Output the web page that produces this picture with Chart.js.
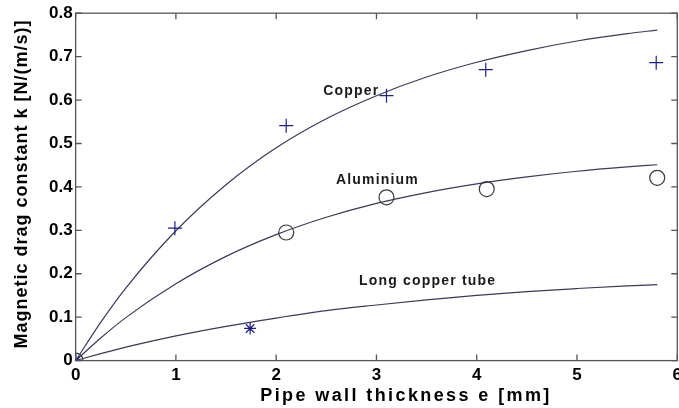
<!DOCTYPE html>
<html lang="en">
<head>
  <meta charset="UTF-8">
  <title>Magnetic drag constant</title>
  <script src="https://cdn.jsdelivr.net/npm/chart.js"></script>
  <style>
    html, body { margin: 0; padding: 0; overflow: hidden; background: #fff; }
    canvas { display: block; }
  </style>
</head>
<body>
  <canvas id="chart" width="687" height="408"></canvas>

  <script>
    // fitted curves
    const curveX = [0, 0.25, 0.5, 1, 1.5, 2, 2.5, 3, 3.5, 4, 4.5, 5, 5.5, 5.8];
    const copperFit = [0, 0.088, 0.167, 0.299, 0.405, 0.490, 0.557, 0.610, 0.653, 0.687, 0.714, 0.736, 0.753, 0.761];
    const aluminiumFit = [0, 0.052, 0.099, 0.177, 0.240, 0.290, 0.330, 0.362, 0.387, 0.407, 0.423, 0.436, 0.446, 0.451];
    const tubeFit = [0, 0.016, 0.031, 0.057, 0.079, 0.098, 0.115, 0.128, 0.140, 0.150, 0.159, 0.166, 0.172, 0.175];

    // measured points
    const copperX = [0, 0.99, 2.1, 3.1, 4.09, 5.79];
    const copperK = [0, 0.305, 0.541, 0.610, 0.670, 0.686];
    const aluminiumX = [0, 2.1, 3.1, 4.1, 5.8];
    const aluminiumK = [0, 0.295, 0.376, 0.395, 0.421];
    const tubeX = [0, 1.74];
    const tubeK = [0, 0.074];

    const xTicks = [0, 1, 2, 3, 4, 5, 6];
    const yTicks = [0, 0.1, 0.2, 0.3, 0.4, 0.5, 0.6, 0.7, 0.8];

    const curveLabels = [
      { text: 'Copper', x: 2.75, y: 0.621 },
      { text: 'Aluminium', x: 3.01, y: 0.416 },
      { text: 'Long copper tube', x: 3.51, y: 0.184 }
    ];

    const pts = (xs, ys) => xs.map((x, i) => ({ x, y: ys[i] }));

    const lineColor = '#3a3a5a';
    const markColor = '#1e1e86';

    function fitSet(data) {
      return {
        data, showLine: true, borderColor: lineColor, borderWidth: 1.2,
        pointRadius: 0, cubicInterpolationMode: 'monotone', fill: false
      };
    }

    const boxPlugin = {
      id: 'box',
      afterDraw(chart) {
        const { ctx, chartArea: a, scales } = chart;
        ctx.save();
        ctx.strokeStyle = '#555';
        ctx.lineWidth = 1.3;
        ctx.strokeRect(a.left, a.top, a.right - a.left, a.bottom - a.top);
        ctx.beginPath();
        xTicks.forEach(v => {
          const px = scales.x.getPixelForValue(v);
          ctx.moveTo(px, a.bottom); ctx.lineTo(px, a.bottom - 6);
          ctx.moveTo(px, a.top); ctx.lineTo(px, a.top + 6);
        });
        yTicks.forEach(v => {
          const py = scales.y.getPixelForValue(v);
          ctx.moveTo(a.left, py); ctx.lineTo(a.left + 6, py);
          ctx.moveTo(a.right, py); ctx.lineTo(a.right - 6, py);
        });
        ctx.stroke();

        // curve labels
        ctx.fillStyle = '#1a1a1a';
        ctx.font = 'bold 14px "Liberation Sans", Arial, sans-serif';
        ctx.letterSpacing = '1.2px';
        ctx.textAlign = 'center';
        ctx.textBaseline = 'middle';
        curveLabels.forEach(l => {
          ctx.fillText(l.text, scales.x.getPixelForValue(l.x), scales.y.getPixelForValue(l.y));
        });

        // axis titles
        ctx.fillStyle = '#000';
        ctx.font = 'bold 18px "Liberation Sans", Arial, sans-serif';
        ctx.textBaseline = 'alphabetic';
        ctx.letterSpacing = '2.4px';
        ctx.fillText('Pipe wall thickness e [mm]', 406, 401);
        ctx.letterSpacing = '1px';
        ctx.translate(27, 184);
        ctx.rotate(-Math.PI / 2);
        ctx.fillText('Magnetic drag constant k [N/(m/s)]', 0, 0);
        ctx.restore();
      }
    };

    const tickFont = { family: '"Liberation Sans", Arial, sans-serif', size: 17, weight: 'bold' };

    new Chart(document.getElementById('chart'), {
      type: 'scatter',
      data: {
        datasets: [
          {
            data: pts(copperX, copperK), pointStyle: 'cross', pointRadius: 7,
            borderColor: markColor, borderWidth: 1.2, backgroundColor: 'transparent'
          },
          {
            data: pts(aluminiumX, aluminiumK), pointStyle: 'circle', pointRadius: 7.5,
            borderColor: '#3a3a3a', borderWidth: 1.2, backgroundColor: 'transparent'
          },
          {
            data: pts(tubeX, tubeK), pointStyle: 'star', pointRadius: 6,
            borderColor: markColor, borderWidth: 1.2, backgroundColor: 'transparent'
          },
          fitSet(pts(curveX, copperFit)),
          fitSet(pts(curveX, aluminiumFit)),
          fitSet(pts(curveX, tubeFit))
        ]
      },
      options: {
        responsive: false,
        animation: false,
        layout: { padding: { left: 46, top: 9, bottom: 17, right: 0 } },
        plugins: { legend: { display: false }, tooltip: { enabled: false } },
        scales: {
          x: {
            type: 'linear', min: 0, max: 6,
            grid: { display: false, drawTicks: false },
            border: { display: false },
            afterBuildTicks: s => { s.ticks = xTicks.map(v => ({ value: v })); },
            ticks: { color: '#000', font: tickFont, padding: 5 }
          },
          y: {
            type: 'linear', min: 0, max: 0.8,
            grid: { display: false, drawTicks: false },
            border: { display: false },
            afterBuildTicks: s => { s.ticks = yTicks.map(v => ({ value: v })); },
            ticks: { color: '#000', font: tickFont, padding: 3 }
          }
        }
      },
      plugins: [boxPlugin]
    });
  </script>
</body>
</html>
